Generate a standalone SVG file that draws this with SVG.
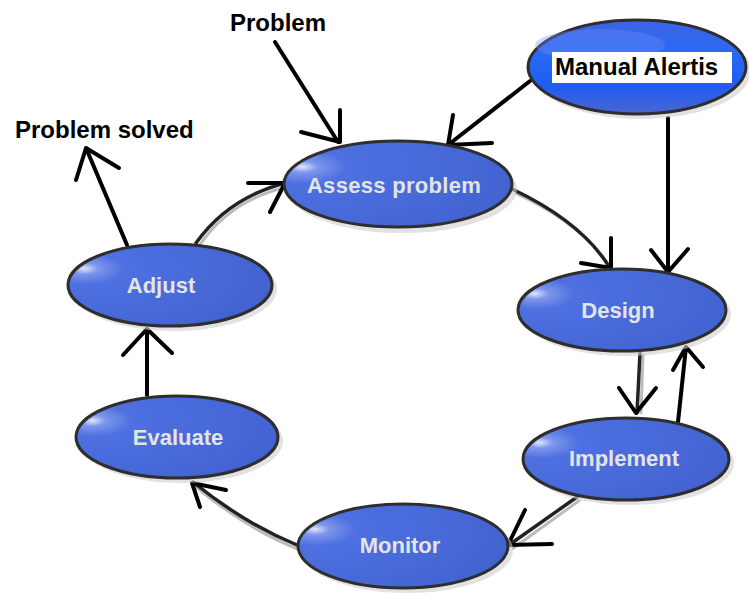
<svg xmlns="http://www.w3.org/2000/svg" width="749" height="593" viewBox="0 0 749 593">
<defs>
<radialGradient id="g" cx="0.1" cy="0.32" r="0.95" fx="0.08" fy="0.3">
<stop offset="0" stop-color="#dfe6fb"/>
<stop offset="0.07" stop-color="#7d96ec"/>
<stop offset="0.2" stop-color="#4e70e0"/>
<stop offset="1" stop-color="#4262d0"/>
</radialGradient>
<linearGradient id="gm" x1="0" y1="0" x2="0" y2="1">
<stop offset="0" stop-color="#3d63e6"/>
<stop offset="0.35" stop-color="#2a6af5"/>
<stop offset="0.7" stop-color="#1f5cf2"/>
<stop offset="1" stop-color="#4a66d0"/>
</linearGradient>
</defs>
<style>
.node{fill:url(#g);stroke:#2e2e2e;stroke-width:3}
.sh{fill:#cfcfcf;opacity:0.6}
.lbl{font-family:"Liberation Sans",Arial,sans-serif;font-weight:bold;font-size:22px;fill:#e4e4e4;text-anchor:middle}
.ext{font-family:"Liberation Sans",Arial,sans-serif;font-weight:bold;font-size:24px;fill:#000}
.a{fill:none;stroke:#000;stroke-width:4;stroke-linecap:round;stroke-linejoin:round}
.c{fill:none;stroke:#222;stroke-width:3.5;stroke-linecap:round}
.cs{fill:none;stroke:#bbb;stroke-width:3}
</style>
<rect width="749" height="593" fill="#fff"/>
<g id="connectors">
<path class="a" d="M275,42 L338,142 M340,110 L340,142 L301,132"/>
<path class="a" d="M127,245 L86,148 M76,180 L86,148 L119,168"/>
<path class="cs" d="M199,246 Q230,200 287,187"/>
<path class="c" d="M196,243 Q228,198 285,183"/>
<path class="a" d="M248,183 L285,183 L270,212"/>
<path class="a" d="M530,81 L448,145 M453,115 L448,145 L492,143"/>
<path class="a" d="M668,118 L668,272 M651,250 L668,272 L688,249"/>
<path class="cs" d="M515,193 Q585,225 613,272"/>
<path class="c" d="M512,189 Q582,222 610,268"/>
<path class="a" d="M611,238 L611,268 L581,263"/>
<path class="cs" d="M643,354 L641,414"/>
<path class="c" d="M640,353 L637,413"/>
<path class="a" d="M619,388 L636,413 L656,388"/>
<path class="a" d="M678,422 L686,347 M673,370 L686,347 L703,367"/>
<path class="cs" d="M580,500 L512,549"/>
<path class="c" d="M577,497 L509,545"/>
<path class="a" d="M525,510 L508,545 L552,544"/>
<path class="cs" d="M298,549 Q245,528 195,486"/>
<path class="c" d="M297,545 Q245,524 193,482"/>
<path class="a" d="M200,507 L192,483 L226,490"/>
<path class="a" d="M147,395 L147,329 M123,355 L147,329 L172,353"/>
</g>
<g id="assess">
<ellipse class="sh" cx="402" cy="189" rx="115" ry="44"/>
<ellipse class="node" cx="398" cy="184" rx="114" ry="43"/>
<text class="lbl" x="394" y="193" letter-spacing="0.3">Assess problem</text>
</g>
<g id="manual">
<ellipse class="sh" cx="641" cy="71" rx="110" ry="48"/>
<ellipse cx="637" cy="67" rx="109" ry="47" fill="url(#gm)" stroke="#2e2e2e" stroke-width="3"/>
<ellipse cx="600" cy="45" rx="65" ry="16" fill="#6e8ff5" opacity="0.35"/>
<rect x="552" y="52" width="180" height="31" fill="#fff"/>
<text class="ext" x="555" y="75">Manual Alertis</text>
</g>
<g id="design">
<ellipse class="sh" cx="626" cy="314" rx="105" ry="42"/>
<ellipse class="node" cx="622" cy="310" rx="104" ry="41"/>
<text class="lbl" x="618" y="318">Design</text>
</g>
<g id="implement">
<ellipse class="sh" cx="630" cy="463" rx="104" ry="42"/>
<ellipse class="node" cx="626" cy="459" rx="103" ry="41"/>
<text class="lbl" x="624" y="466">Implement</text>
</g>
<g id="monitor">
<ellipse class="sh" cx="407" cy="550" rx="106" ry="43"/>
<ellipse class="node" cx="403" cy="546" rx="105" ry="42"/>
<text class="lbl" x="400" y="553">Monitor</text>
</g>
<g id="evaluate">
<ellipse class="sh" cx="181" cy="441" rx="102" ry="42"/>
<ellipse class="node" cx="177" cy="437" rx="101" ry="41"/>
<text class="lbl" x="178" y="445">Evaluate</text>
</g>
<g id="adjust">
<ellipse class="sh" cx="174" cy="289" rx="103" ry="42"/>
<ellipse class="node" cx="170" cy="285" rx="102" ry="41"/>
<text class="lbl" x="161" y="293">Adjust</text>
</g>
<g id="labels">
<text class="ext" x="230" y="31">Problem</text>
<text class="ext" x="15" y="138">Problem solved</text>
</g>
</svg>
